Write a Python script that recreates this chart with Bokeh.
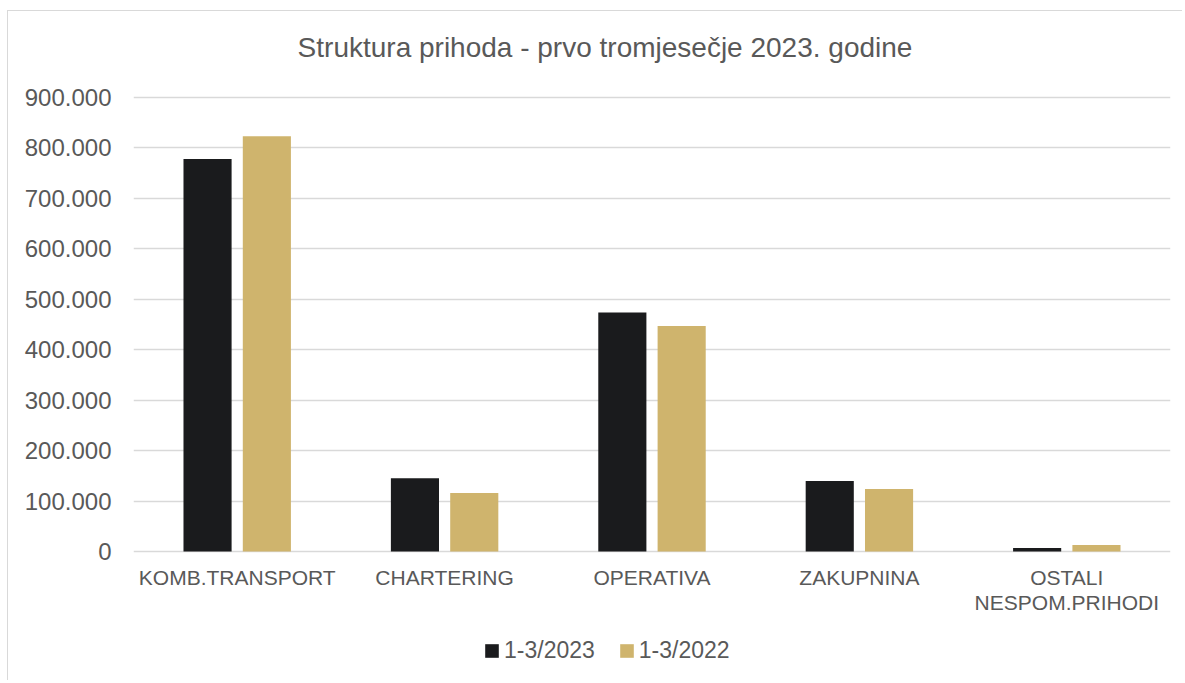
from bokeh.plotting import figure
from bokeh.models import (FactorRange, Range1d, FixedTicker, CustomJSTickFormatter, Legend, LegendItem,
                          ColumnDataSource)
from bokeh.core.properties import value
from bokeh.transform import dodge
from bokeh.embed import file_html
from bokeh.resources import INLINE

title_text = "Struktura prihoda - prvo tromjesečje 2023. godine"
categories = ["KOMB.TRANSPORT", "CHARTERING", "OPERATIVA", "ZAKUPNINA", "OSTALI NESPOM.PRIHODI"]
label_line1 = ["KOMB.TRANSPORT", "CHARTERING", "OPERATIVA", "ZAKUPNINA", "OSTALI"]
label_line2 = ["", "", "", "", "NESPOM.PRIHODI"]
series_names = ["1-3/2023", "1-3/2022"]
values_2023 = [778000, 145000, 474000, 140000, 7000]
values_2022 = [823000, 116000, 447000, 124000, 13000]
y_ticks = [0, 100000, 200000, 300000, 400000, 500000, 600000, 700000, 800000, 900000]

FONT = "Liberation Sans"
TXT = "#595959"
GRID = "#d9d9d9"
C23 = "#1a1b1d"
C22 = "#cfb46d"

# layout (pixels)
W, H = 1175, 670
LEFT, RIGHT = 125, 13
ABOVE_MAX = 86              # pixels between frame top and the top tick
VALUE_AREA_H = 454          # pixel height from 0 to the top tick
y_max = y_ticks[-1]
y_end = y_max * (1 + ABOVE_MAX / VALUE_AREA_H)
y_start = -y_max * (H - ABOVE_MAX - VALUE_AREA_H) / VALUE_AREA_H

src = ColumnDataSource(dict(cat=categories, v23=values_2023, v22=values_2022,
                            base=[y_ticks[0]] * len(categories), l1=label_line1, l2=label_line2))

p = figure(x_range=FactorRange(*categories, range_padding=0), y_range=Range1d(y_start, y_end),
           width=W, height=H, output_backend="svg", toolbar_location=None,
           min_border_left=LEFT, min_border_right=RIGHT, min_border_top=0, min_border_bottom=0)

r1 = p.vbar(x=dodge("cat", -0.143, range=p.x_range), top="v23", bottom="base", width=0.232, source=src,
            fill_color=C23, line_color=None)
r2 = p.vbar(x=dodge("cat", 0.143, range=p.x_range), top="v22", bottom="base", width=0.232, source=src,
            fill_color=C22, line_color=None)

# category labels (two lines) under the zero line
p.text(x="cat", y="base", text="l1", source=src, text_align="center", text_baseline="alphabetic",
       y_offset=26, text_font=value(FONT), text_font_size="21px", text_color=TXT)
p.text(x="cat", y="base", text="l2", source=src, text_align="center", text_baseline="alphabetic",
       y_offset=51, text_font=value(FONT), text_font_size="21px", text_color=TXT)

# chart title, centred over the whole chart area
p.text(x=[categories[2]], y=[y_max], text=[title_text], text_align="center", text_baseline="alphabetic",
       x_offset=-47, y_offset=-50, text_font=value(FONT), text_font_size="28px", text_color=TXT)

p.outline_line_color = None
p.xaxis.visible = False
p.xgrid.grid_line_color = None
p.ygrid.grid_line_color = GRID
p.ygrid.grid_line_width = 1.5
p.yaxis.ticker = FixedTicker(ticks=y_ticks)
p.ygrid.ticker = FixedTicker(ticks=y_ticks)
p.yaxis.formatter = CustomJSTickFormatter(code="return tick.toString().replace(/\\B(?=(\\d{3})+(?!\\d))/g, '.');")
p.yaxis.axis_line_color = None
p.yaxis.major_tick_line_color = None
p.yaxis.major_tick_out = 0
p.yaxis.major_tick_in = 0
p.yaxis.minor_tick_line_color = None
p.yaxis.major_label_text_font = FONT
p.yaxis.major_label_text_font_size = "24px"
p.yaxis.major_label_text_color = TXT
p.yaxis.major_label_standoff = 22

legend = Legend(items=[LegendItem(label=series_names[0], renderers=[r1]),
                       LegendItem(label=series_names[1], renderers=[r2])],
                orientation="horizontal", location=(350, 17),
                padding=0, margin=0, spacing=23, glyph_width=17, glyph_height=17,
                label_standoff=4, label_text_font=FONT, label_text_font_size="23px",
                label_text_color=TXT, border_line_color=None, background_fill_alpha=0)
p.add_layout(legend, "center")

p.styles = {"border-left": "1px solid #d9d9d9", "border-top": "1px solid #d9d9d9",
            "margin-left": "7px", "margin-top": "10px"}

open("out.html", "w").write(file_html(p, INLINE))
